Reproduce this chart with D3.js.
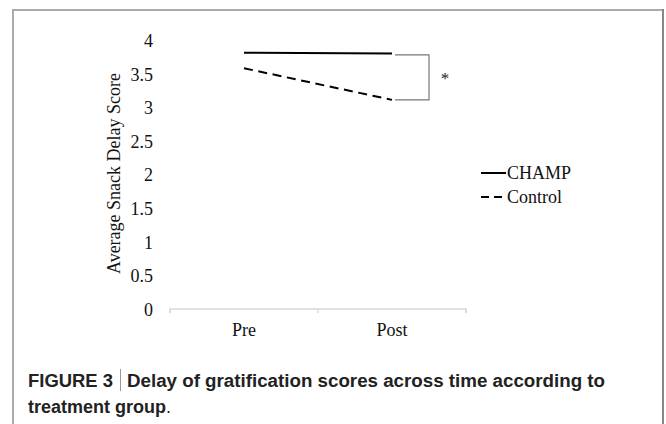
<!DOCTYPE html>
<html>
<head>
<meta charset="utf-8">
<script src="https://cdn.jsdelivr.net/npm/d3@7/dist/d3.min.js"></script>
<style>
  html, body { margin: 0; padding: 0; background: #fff; }
  svg { display: block; }
</style>
</head>
<body>
<svg id="chart" width="666" height="424"></svg>
<script>
// ---- data ----
const categories = ["Pre", "Post"];
const seriesNames = ["CHAMP", "Control"];
const champValues = [3.81, 3.80];
const controlValues = [3.58, 3.11];
const yTicks = [0, 0.5, 1, 1.5, 2, 2.5, 3, 3.5, 4];
const yTickLabels = ["0", "0.5", "1", "1.5", "2", "2.5", "3", "3.5", "4"];
const sigBracket = [3.78, 3.11];
const sigLabel = "*";
const yTitle = "Average Snack Delay Score";
const captionBold = "FIGURE 3";
const captionRest1 = "Delay of gratification scores across time according to";
const captionRest2 = "treatment group";

const svg = d3.select("#chart");
const serif = "'Liberation Serif', 'Times New Roman', serif";
const sans = "'Liberation Sans', Arial, Helvetica, sans-serif";

// frame
const frame = svg.append("g");
frame.append("line").attr("x1", 13).attr("x2", 663).attr("y1", 10).attr("y2", 10)
  .attr("stroke", "#ababab").attr("stroke-width", 2);
frame.append("line").attr("x1", 13).attr("x2", 13).attr("y1", 9).attr("y2", 424)
  .attr("stroke", "#ababab").attr("stroke-width", 2);
frame.append("line").attr("x1", 663).attr("x2", 663).attr("y1", 9).attr("y2", 424)
  .attr("stroke", "#888").attr("stroke-width", 2);

// scales
const x = d3.scaleBand().domain(categories).range([170, 466]).padding(0);
const y = d3.scaleLinear().domain([0, 4]).range([309, 40]);
const cx = d => x(d) + x.bandwidth() / 2;

// x axis
const xAxis = svg.append("g").attr("transform", `translate(0,${y(0)})`)
  .call(d3.axisBottom(x).tickSize(0).tickFormat(d => d));
xAxis.select(".domain").attr("stroke", "#d9d9d9").attr("stroke-width", 1.5)
  .attr("d", `M${x.range()[0]},4V0H${x.range()[1]}V4`);
xAxis.selectAll(".tick line").remove();
xAxis.selectAll(".tick text").attr("font-family", serif).attr("font-size", 18)
  .attr("fill", "#111").attr("dy", "0").attr("y", 27);
// category boundary ticks
xAxis.selectAll("line.bnd").data([x.range()[0], x(categories[1]), x.range()[1]]).enter()
  .append("line").attr("class", "bnd")
  .attr("x1", d => d).attr("x2", d => d).attr("y1", 0).attr("y2", 4)
  .attr("stroke", "#d9d9d9").attr("stroke-width", 1.5);

// y axis labels
const yAxis = svg.append("g").attr("transform", `translate(153,0)`)
  .call(d3.axisLeft(y).tickValues(yTicks).tickSize(0)
    .tickFormat((d, i) => yTickLabels[i]));
yAxis.select(".domain").remove();
yAxis.selectAll(".tick text").attr("font-family", serif).attr("font-size", 18)
  .attr("fill", "#111").attr("x", 0).attr("dy", "0.36em");

// y title
svg.append("text")
  .attr("transform", `translate(120,${(y(0) + y(4)) / 2 - 1}) rotate(-90)`)
  .attr("text-anchor", "middle")
  .attr("font-family", serif).attr("font-size", 18).attr("fill", "#111")
  .text(yTitle);

// lines
const line = d3.line().x(d => cx(d.c)).y(d => y(d.v));
const champData = categories.map((c, i) => ({ c, v: champValues[i] }));
const controlData = categories.map((c, i) => ({ c, v: controlValues[i] }));
svg.append("path").datum(champData).attr("d", line)
  .attr("fill", "none").attr("stroke", "#000").attr("stroke-width", 2);
svg.append("path").datum(controlData).attr("d", line)
  .attr("fill", "none").attr("stroke", "#000").attr("stroke-width", 2)
  .attr("stroke-dasharray", "9,5.6");

// significance bracket
const bx0 = cx("Post") + 3, bx1 = cx("Post") + 37;
svg.append("path")
  .attr("d", `M${bx0},${y(sigBracket[0])}H${bx1}V${y(sigBracket[1])}H${bx0}`)
  .attr("fill", "none").attr("stroke", "#777").attr("stroke-width", 1.2);
svg.append("text").attr("x", bx1 + 16).attr("y", (y(sigBracket[0]) + y(sigBracket[1])) / 2 + 7)
  .attr("text-anchor", "middle").attr("font-family", serif).attr("font-size", 17)
  .attr("fill", "#222").text(sigLabel);

// legend
const legend = svg.append("g");
seriesNames.forEach((name, i) => {
  const ly = 173 + i * 24;
  legend.append("line").attr("x1", 481).attr("x2", i === 1 ? 502 : 506)
    .attr("y1", ly).attr("y2", ly)
    .attr("stroke", "#000").attr("stroke-width", 2)
    .attr("stroke-dasharray", i === 1 ? "8,5" : null);
  legend.append("text").attr("x", 507).attr("y", ly).attr("dy", "0.35em")
    .attr("font-family", serif).attr("font-size", 18).attr("fill", "#111").text(name);
});

// caption
const cap = svg.append("g").attr("font-family", sans).attr("font-weight", "bold")
  .attr("font-size", 18).attr("fill", "#222");
cap.append("text").attr("x", 28).attr("y", 387).attr("textLength", 85)
  .attr("lengthAdjust", "spacingAndGlyphs").text(captionBold);
cap.append("line").attr("x1", 120.5).attr("x2", 120.5).attr("y1", 369).attr("y2", 391)
  .attr("stroke", "#999").attr("stroke-width", 1);
cap.append("text").attr("x", 127).attr("y", 387).attr("textLength", 478)
  .attr("lengthAdjust", "spacingAndGlyphs").text(captionRest1);
const t2 = cap.append("text").attr("x", 28).attr("y", 413);
t2.append("tspan").text(captionRest2);
t2.append("tspan").attr("font-weight", "normal").text(".");
</script>
</body>
</html>
